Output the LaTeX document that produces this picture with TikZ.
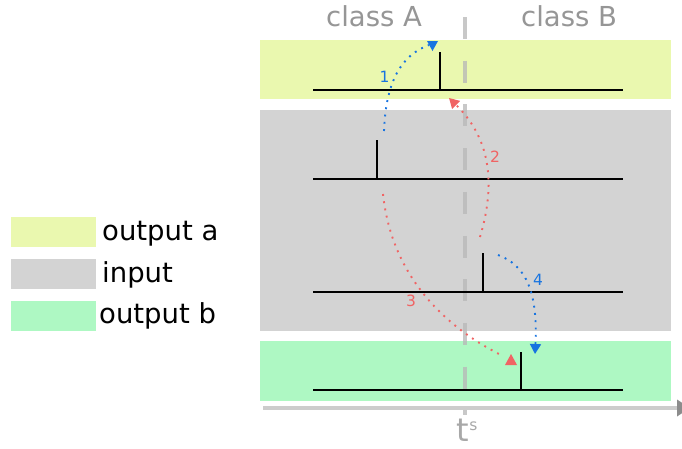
\documentclass[tikz,border=0pt]{standalone}
\usepackage{fontspec}
\setmainfont{DejaVu Sans}
\usetikzlibrary{arrows.meta}
\definecolor{outa}{RGB}{234,248,175}
\definecolor{inp}{RGB}{211,211,211}
\definecolor{outb}{RGB}{174,248,195}
\definecolor{flowblue}{RGB}{24,116,224}
\definecolor{flowred}{RGB}{240,100,100}
\definecolor{headgray}{RGB}{150,150,150}
\definecolor{tsgray}{RGB}{168,168,168}
\definecolor{axisgray}{RGB}{204,204,204}
\definecolor{tipgray}{RGB}{140,140,140}
\definecolor{splitgray}{RGB}{184,184,184}
\begin{document}
\begin{tikzpicture}[x=1pt,y=-1pt,
  bigtext/.style={font=\fontsize{27.5}{32}\selectfont, inner sep=0pt},
  numtext/.style={font=\fontsize{15.5}{18}\selectfont, inner sep=0pt},
  swatch/.style={inner sep=0pt, minimum width=85pt, minimum height=30pt},
  band/.style={inner sep=0pt, minimum width=411pt},
  timeline/.style={line width=2.8pt, black},
  spike/.style={line width=2.2pt, black},
  flow/.style={line width=1.9pt, dash pattern=on 1.9pt off 5.4pt},
  flowtip/.style={-{Triangle[length=10pt,width=11pt]}},
]
\useasboundingbox (0,0) rectangle (682,448);

% background bands
\node[band, fill=outa, minimum height=59pt] (bandA) at (465.5,69.5) {};
\node[band, fill=inp, minimum height=221pt] (bandI) at (465.5,220.5) {};
\node[band, fill=outb, minimum height=60pt] (bandB) at (465.5,371) {};

% legend
\node[swatch, fill=outa] (swA) at (53.5,232) {};
\node[swatch, fill=inp] (swI) at (53.5,274) {};
\node[swatch, fill=outb] (swB) at (53.5,316) {};
\node[bigtext, anchor=base west] (lgA) at (102,240) {output a};
\node[bigtext, anchor=base west] (lgI) at (102,282) {input};
\node[bigtext, anchor=base west] (lgB) at (99,323) {output b};

% class headers
\node[bigtext, anchor=base west, text=headgray] (clsA) at (326,26) {class A};
\node[bigtext, anchor=base west, text=headgray] (clsB) at (521,26) {class B};

% time axis
\coordinate (ax0) at (263,408);
\coordinate (ax1) at (677,408);
\draw[axisgray, line width=3.5pt] (ax0) -- (ax1);
\fill[tipgray] (677,399.5) -- (690,408) -- (677,416.5) -- cycle;

% class split
\coordinate (sp0) at (465,17);
\coordinate (sp1) at (465,415);
\draw[splitgray, opacity=0.77, line width=4pt, dash pattern=on 22pt off 21.7pt] (sp0) -- (sp1);
\node[anchor=base west, inner sep=0pt, text=tsgray, font=\fontsize{32}{36}\selectfont] (ts) at (456.5,441.5)
  {t\raisebox{11pt}{\fontsize{15.5}{18}\selectfont s}};

% time lines with events
\coordinate (rA0) at (313,90);  \coordinate (rA1) at (623,90);
\coordinate (r10) at (313,179); \coordinate (r11) at (623,179);
\coordinate (r20) at (313,292); \coordinate (r21) at (623,292);
\coordinate (rB0) at (313,390); \coordinate (rB1) at (623,390);
\draw[timeline] (rA0) -- (rA1);
\draw[timeline] (r10) -- (r11);
\draw[timeline] (r20) -- (r21);
\draw[timeline] (rB0) -- (rB1);
\draw[spike] (440,90) -- (440,52);
\draw[spike] (377,179) -- (377,140);
\draw[spike] (483,292) -- (483,253);
\draw[spike] (521,390) -- (521,352);

% flows
\coordinate (s1) at (384,131); \coordinate (e1) at (429,45);
\draw[flow, flowblue] (s1) .. controls (386,80) and (402,55) .. (e1);
\fill[flowblue] (432.5,51) -- (427,41) -- (438,41) -- cycle;
\node[numtext, text=flowblue] (n1) at (384.5,76.5) {1};

\coordinate (s2) at (480,237); \coordinate (e2) at (449,98);
\draw[flow, flowred, flowtip] (s2) .. controls (494,190) and (494,142) .. (e2);
\node[numtext, text=flowred] (n2) at (495,157) {2};

\coordinate (s3) at (383,194); \coordinate (e3) at (503,356);
\draw[flow, flowred] (s3) .. controls (392,280) and (450,330) .. (e3);
\fill[flowred] (511,354) -- (505,365) -- (517,365) -- cycle;
\node[numtext, text=flowred] (n3) at (411,301) {3};

\coordinate (s4) at (498,255); \coordinate (e4) at (535,354);
\draw[flow, flowblue, flowtip] (s4) .. controls (525,265) and (538,290) .. (e4);
\node[numtext, text=flowblue] (n4) at (538,280) {4};
\end{tikzpicture}
\end{document}
